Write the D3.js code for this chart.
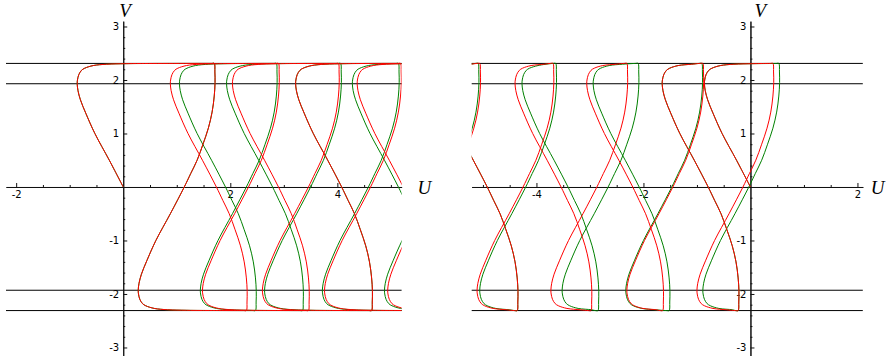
<!DOCTYPE html>
<html>
<head>
<meta charset="utf-8">
<script src="https://cdn.jsdelivr.net/npm/d3@7"></script>
<style>
  body { margin: 0; background: #fff; }
  .tick text { font-family: "DejaVu Sans", sans-serif; font-size: 10px; fill: #000; }
  .axis path, .axis line { stroke: #111; }
  .title { font-family: "Liberation Serif", serif; font-style: italic; font-size: 19px; fill: #000; }
</style>
</head>
<body>
<script>
// horizontal reference levels (V)
var levels = [2.31, 1.93, -1.93, -2.31];

var branchShape = [[0, 2.31], [0.012, 2.15], [0.015, 1.95], [0.0, 1.7], [-0.04, 1.4],
  [-0.11, 1.1], [-0.21, 0.8], [-0.32, 0.5], [-0.44, 0.25], [-0.56, 0],
  [-0.82, -0.5], [-1.09, -1.0], [-1.26, -1.38], [-1.36, -1.63], [-1.405, -1.8], [-1.42, -1.93]];
// the bend after a turning point, measured from it: [dU, V]
var approachShape = [[0.005, -2.0], [0.03, -2.1], [0.08, -2.18], [0.14, -2.22], [0.3, -2.27],
  [0.55, -2.295], [0.9, -2.305], [1.2, -2.308]];

// corners (U) along each curve: first on the top line, then alternating bottom/top
var redLeft = [1.70, 2.30, 2.90, 3.46, 4.02, 4.64, 5.18, 5.79, 6.36, 6.95];
var greenLeft = [1.70, 2.47, 2.86, 3.35, 4.06, 4.64, 5.14, 5.70, 6.30, 6.86];
var redRight = [0.42, -0.23, -0.89, -1.64, -2.31, -2.98, -3.69, -4.36, -5.06, -5.73];
var greenRight = [0.53, -0.23, -0.91, -1.52, -2.10, -2.85, -3.64, -4.36, -5.09, -5.75];

// axis ticks
var uTicksLeft = [-2, 2, 4];
var uTicksRight = [-4, -2, 2];
var vTicks = [-3, -2, -1, 1, 2, 3];
var uMinorStep = 0.5;
var vMinorStep = 0.2;

var width = 886, height = 360;
var svg = d3.select("body").append("svg")
  .attr("width", width)
  .attr("height", height);

var y = d3.scaleLinear().domain([-3.15, 3.1]).range([355.5, 21.15]);

var panels = [
  { id: "left", domain: [-2.19, 5.2], range: [6, 401.6], uTicks: uTicksLeft,
    curves: [[greenLeft, "#008000"], [redLeft, "#ff0000"]], vx: -4, ux: 16 },
  { id: "right", domain: [-5.21, 2.10], range: [471.7, 862.8], uTicks: uTicksRight,
    curves: [[greenRight, "#008000"], [redRight, "#ff0000"]], vx: 4, ux: 8 }
];

// turn a list of corners into points of one zigzag curve starting at the origin
function curvePoints(corners) {
  var pts = [];
  var zeroIdx = branchShape.findIndex(function(p) { return p[1] === 0; });
  var c0 = -branchShape[zeroIdx][0];
  branchShape.slice(zeroIdx).forEach(function(p) { pts.push([c0 + p[0], -p[1]]); });
  var last = branchShape[branchShape.length - 1];
  var top = branchShape[0][1];
  var turnU = c0 + last[0];
  var sign = 1;
  corners.forEach(function(c) {
    approachShape.forEach(function(p) {
      if (turnU + p[0] < c - 0.08) pts.push([turnU + p[0], -sign * p[1]]);
    });
    // short straight run into the corner so the spline does not bulge
    pts.push([c - 0.05, sign * top]);
    branchShape.forEach(function(p) { pts.push([c + p[0], sign * p[1]]); });
    turnU = c + last[0];
    sign = -sign;
  });
  return pts;
}

function minorValues(domain, step, skip) {
  var vals = [];
  for (var v = Math.ceil(domain[0] / step) * step; v <= domain[1] + 1e-9; v += step) {
    var r = Math.round(v * 100) / 100;
    if (skip.indexOf(r) < 0 && r !== 0) vals.push(r);
  }
  return vals;
}

var plain = function(d) { return String(d); };

panels.forEach(function(panel) {
  var x = d3.scaleLinear().domain(panel.domain).range(panel.range);
  var g = svg.append("g");

  // reference levels
  g.selectAll("line.level")
    .data(levels)
    .enter().append("line")
    .attr("class", "level")
    .attr("x1", panel.range[0]).attr("x2", panel.range[1])
    .attr("y1", function(d) { return y(d); })
    .attr("y2", function(d) { return y(d); })
    .attr("stroke", "#000")
    .attr("stroke-width", 1);

  // axes through the origin
  g.append("g").attr("class", "axis")
    .attr("transform", "translate(0," + y(0) + ")")
    .call(d3.axisBottom(x).tickValues(minorValues(panel.domain, uMinorStep, panel.uTicks))
      .tickSize(-2).tickSizeOuter(0).tickFormat(""));
  g.append("g").attr("class", "axis")
    .attr("transform", "translate(0," + y(0) + ")")
    .call(d3.axisBottom(x).tickValues(panel.uTicks).tickSize(-4).tickSizeOuter(0)
      .tickPadding(4).tickFormat(plain));
  g.append("g").attr("class", "axis")
    .attr("transform", "translate(" + x(0) + ",0)")
    .call(d3.axisLeft(y).tickValues(minorValues(y.domain(), vMinorStep, vTicks))
      .tickSize(-2).tickSizeOuter(0).tickFormat(""));
  g.append("g").attr("class", "axis")
    .attr("transform", "translate(" + x(0) + ",0)")
    .call(d3.axisLeft(y).tickValues(vTicks).tickSize(-4).tickSizeOuter(0)
      .tickPadding(4).tickFormat(plain));

  // curves, clipped to the panel
  svg.append("clipPath").attr("id", "clip-" + panel.id)
    .append("rect")
    .attr("x", panel.range[0]).attr("y", 0)
    .attr("width", panel.range[1] - panel.range[0]).attr("height", height);

  var line = d3.line()
    .x(function(d) { return x(d[0]); })
    .y(function(d) { return y(d[1]); })
    .curve(d3.curveCatmullRom.alpha(0.5));

  g.append("g").attr("clip-path", "url(#clip-" + panel.id + ")")
    .selectAll("path.orbit")
    .data(panel.curves)
    .enter().append("path")
    .attr("class", "orbit")
    .attr("d", function(d) { return line(curvePoints(d[0])); })
    .attr("fill", "none")
    .attr("stroke", function(d) { return d[1]; })
    .attr("stroke-width", 1);

  // axis titles
  g.append("text").attr("class", "title")
    .attr("x", x(0) + panel.vx).attr("y", 17).text("V");
  g.append("text").attr("class", "title")
    .attr("x", panel.range[1] + panel.ux).attr("y", y(0) + 7).text("U");
});
</script>
</body>
</html>
